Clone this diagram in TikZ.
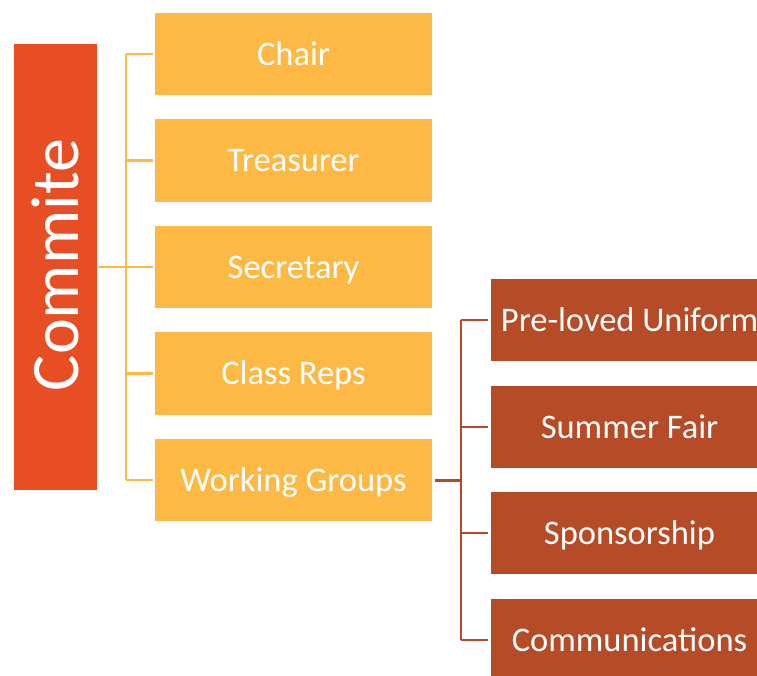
\documentclass[tikz,border=0pt]{standalone}
\usepackage{fontspec}
\setmainfont{Carlito}
\definecolor{cred}{HTML}{E84E23}
\definecolor{cyel}{HTML}{FDB944}
\definecolor{cbrn}{HTML}{B64B27}
\tikzset{
  boxtext/.style={text=white, inner sep=0pt, text height=22.3pt, text depth=0pt, font=\fontsize{34.5}{40}\selectfont},
  yelbox/.style={boxtext, fill=cyel, minimum width=277pt, minimum height=82.5pt},
  brnbox/.style={boxtext, fill=cbrn, minimum width=277pt, minimum height=82pt},
  yline/.style={draw=cyel, line width=2.4pt},
  bline/.style={draw=cbrn, line width=2.4pt},
}
\begin{document}
\begin{tikzpicture}[x=1pt,y=-1pt]
\useasboundingbox (0,0) rectangle (757,675);
\node[fill=cred, inner sep=0pt, minimum width=83pt, minimum height=446pt] (commite) at (55.5,267) {};
\node[text=white, rotate=90, font=\fontsize{68}{72}\selectfont] at ([yshift=2pt]commite.center) {Commite};

\node[yelbox] (chair) at (293.5,54) {Chair};
\node[yelbox] (treas) at (293.5,160.5) {Treasurer};
\node[yelbox] (secr) at (293.5,267) {Secretary};
\node[yelbox] (reps) at (293.5,373.5) {Class Reps};
\node[yelbox] (wg) at (293.5,480) {Working Groups};

\node[brnbox] (pre) at (629.5,320) {Pre-loved Uniform};
\node[brnbox] (fair) at (629.5,427) {Summer Fair};
\node[brnbox] (spon) at (629.5,533) {Sponsorship};
\node[brnbox] (comm) at (629.5,640) {Communications};

\coordinate (ybus) at (126,267);
\coordinate (bbus) at (461,480);

\draw[yline] ([xshift=2pt]commite.east) -- (ybus);
\draw[yline] (ybus |- chair.west) -- (ybus |- wg.west);
\foreach \n in {chair,treas,secr,reps,wg}
  \draw[yline] (ybus |- \n.west) -- ([xshift=-2pt]\n.west);

\draw[bline, line width=3pt] ([xshift=3pt]wg.east) -- (bbus);
\draw[bline, line width=2pt] (bbus |- pre.west) -- (bbus |- comm.west);
\foreach \n in {pre,fair,spon,comm}
  \draw[bline, line width=2pt] (bbus |- \n.west) -- ([xshift=-3pt]\n.west);
\end{tikzpicture}
\end{document}
